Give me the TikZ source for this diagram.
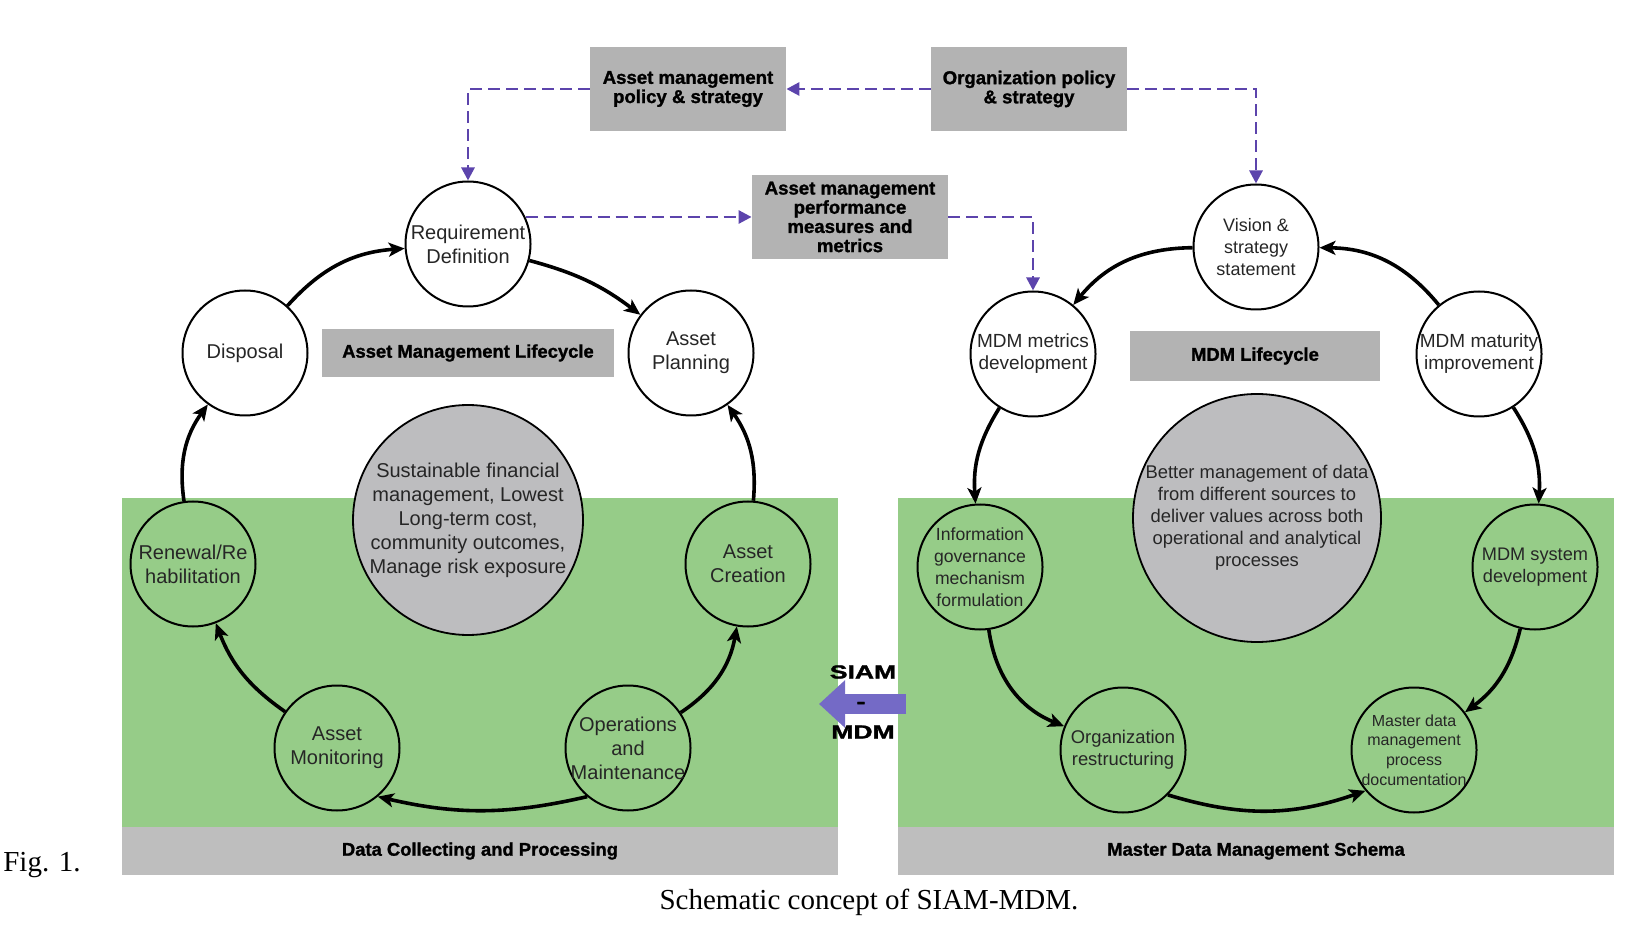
\documentclass[tikz,border=0pt]{standalone}
\usepackage{fontspec}
\setmainfont{Liberation Serif}
\setsansfont{Liberation Sans}[BoldFeatures={FakeBold=1.3}]
\usepackage{tikz}
\usetikzlibrary{positioning, arrows.meta}

\definecolor{panelgreen}{RGB}{150,204,136}
\definecolor{boxgray}{RGB}{179,179,179}
\definecolor{bargray}{RGB}{190,190,190}
\definecolor{hubgray}{RGB}{189,189,191}
\definecolor{linkpurple}{RGB}{92,68,172}
\definecolor{siamblue}{RGB}{116,106,198}

\begin{document}
\begin{tikzpicture}[
x=0.5pt, y=0.5pt,
stagenode/.style={circle, draw=black, line width=1pt, minimum size=62.5pt, inner sep=-4pt, align=center, text=black!85, font=\sffamily\fontsize{10}{12}\selectfont},
topstagenode/.style={stagenode, fill=white},
hubnode/.style={circle, draw=black, line width=0.9pt, fill=hubgray, inner sep=-4pt, align=center, text=black!85},
policynode/.style={rectangle, fill=boxgray, minimum width=98pt, minimum height=42pt, inner sep=2pt, align=center, font=\sffamily\bfseries\fontsize{9.3}{9.6}\selectfont},
lifecyclenode/.style={rectangle, fill=boxgray, minimum height=24pt, inner sep=2pt, font=\sffamily\bfseries\fontsize{9.2}{11}\selectfont},
schemanode/.style={rectangle, fill=bargray, minimum width=358pt, minimum height=24pt, inner sep=0pt, font=\sffamily\bfseries\fontsize{9.2}{11}\selectfont},
siamnode/.style={inner sep=0pt, xscale=1.4, font=\sffamily\bfseries\fontsize{9.5}{11}\selectfont},
flow/.style={-{Stealth[length=8pt, width=7pt, inset=2pt]}, line width=1.8pt},
policylink/.style={-{Triangle[length=6.5pt, width=6.5pt]}, draw=linkpurple, line width=1.4pt, dash pattern=on 6pt off 3pt},
]
\useasboundingbox (0,0) rectangle (1643,928);

% Background panels
\fill[panelgreen] (122,101) rectangle (838,430);
\fill[panelgreen] (898,101) rectangle (1614,430);
\node[schemanode] (leftschema) at (480,77) {Data Collecting and Processing};
\node[schemanode] (rightschema) at (1256,77) {Master Data Management Schema};

% Policy boxes
\node[policynode] (ampolicy) at (688,839) {Asset management\\policy \& strategy};
\node[policynode] (orgpolicy) at (1029,839) {Organization policy\\\& strategy};
\node[policynode] (ammetrics) at (850,711) {Asset management\\performance\\measures and\\metrics};

% Lifecycle titles and hubs
\node[lifecyclenode, minimum width=146pt] (amlife) at (468,575) {Asset Management Lifecycle};
\node[lifecyclenode, minimum width=125pt, minimum height=25pt] (mdmlife) at (1255,572) {MDM Lifecycle};
\node[hubnode, minimum size=115pt, font=\sffamily\fontsize{10}{12}\selectfont] (amhub) at (468,408) {Sustainable financial\\management, Lowest\\Long-term cost,\\community outcomes,\\Manage risk exposure};
\node[hubnode, minimum size=124pt, font=\sffamily\fontsize{9.2}{11}\selectfont] (mdmhub) at (1257,410) {Better management of data\\from different sources to\\deliver values across both\\operational and analytical\\processes};

% Asset management stages
\node[topstagenode] (reqdef) at (468,684) {Requirement\\Definition};
\node[topstagenode] (disposal) at (245,575) {Disposal};
\node[topstagenode] (planning) at (691,575) {Asset\\Planning};
\node[stagenode] (renewal) at (193,364) {Renewal/Re\\habilitation};
\node[stagenode] (creation) at (748,364) {Asset\\Creation};
\node[stagenode] (monitoring) at (337,180) {Asset\\Monitoring};
\node[stagenode] (operations) at (628,180) {Operations\\and\\Maintenance};

% MDM stages
\node[topstagenode, font=\sffamily\fontsize{9}{11}\selectfont] (vision) at (1256,681) {Vision \&\\strategy\\statement};
\node[topstagenode, font=\sffamily\fontsize{9.5}{11}\selectfont] (mdmmetrics) at (1033,574) {MDM metrics\\development};
\node[topstagenode, font=\sffamily\fontsize{9.5}{11}\selectfont] (maturity) at (1479,574) {MDM maturity\\improvement};
\node[stagenode, font=\sffamily\fontsize{8.8}{11}\selectfont] (infogov) at (980,361) {Information\\governance\\mechanism\\formulation};
\node[stagenode, font=\sffamily\fontsize{9.1}{11}\selectfont] (sysdev) at (1535,361) {MDM system\\development};
\node[stagenode, font=\sffamily\fontsize{9.2}{11}\selectfont] (orgrestr) at (1123,178) {Organization\\restructuring};
\node[stagenode, font=\sffamily\fontsize{8}{9.8}\selectfont] (mdmprocess) at (1414,178) {Master data\\management\\process\\documentation};

% Asset management lifecycle flow
\draw[flow] (disposal) to[bend left=22] (reqdef);
\draw[flow] (reqdef) to[bend left=11] (planning);
\draw[flow] (creation) to[bend right=20] (planning);
\draw[flow] (operations) to[bend right=23] (creation);
\draw[flow] (operations.-130) to[bend left=13] (monitoring.-50);
\draw[flow] (monitoring) to[bend left=17] (renewal);
\draw[flow] (renewal) to[bend left=22] (disposal);

% MDM lifecycle flow
\draw[flow] (vision) to[bend right=25] (mdmmetrics);
\draw[flow] (maturity) to[bend right=25] (vision);
\draw[flow] (mdmmetrics) to[bend right=18] (infogov);
\draw[flow] (infogov) to[bend right=30] (orgrestr);
\draw[flow] (orgrestr.-45) to[bend right=18] (mdmprocess.-140);
\draw[flow] (sysdev) to[bend left=20] (mdmprocess);
\draw[flow] (maturity) to[bend left=18] (sysdev);

% Policy links
\draw[policylink] (ampolicy.west) -| (reqdef.north);
\draw[policylink] (orgpolicy.west) -- (ampolicy.east);
\draw[policylink] (orgpolicy.east) -| (vision.north);
\draw[policylink] (reqdef.25 |- ammetrics.west) -- (ammetrics.west);
\draw[policylink] (ammetrics.east) -| (mdmmetrics.north);

% SIAM-MDM arrow
\coordinate (siamtail) at (906,224);
\coordinate (siamtip) at (819,224);
\draw[siamblue, line width=10pt, -{Triangle[length=13pt, width=23pt]}] (siamtail) -- (siamtip);
\node[siamnode] (siamword) at (863,256) {SIAM};
\node[siamnode] (siamdash) at (861,223) {-};
\node[siamnode] (mdmword) at (863,196) {MDM};

% Caption
\node[font=\fontsize{14.5}{16}\selectfont] (fignum) at (42,63) {Fig. 1.};
\node[font=\fontsize{14.5}{16}\selectfont] (figcaption) at (869,26) {Schematic concept of SIAM-MDM.};

\end{tikzpicture}
\end{document}
